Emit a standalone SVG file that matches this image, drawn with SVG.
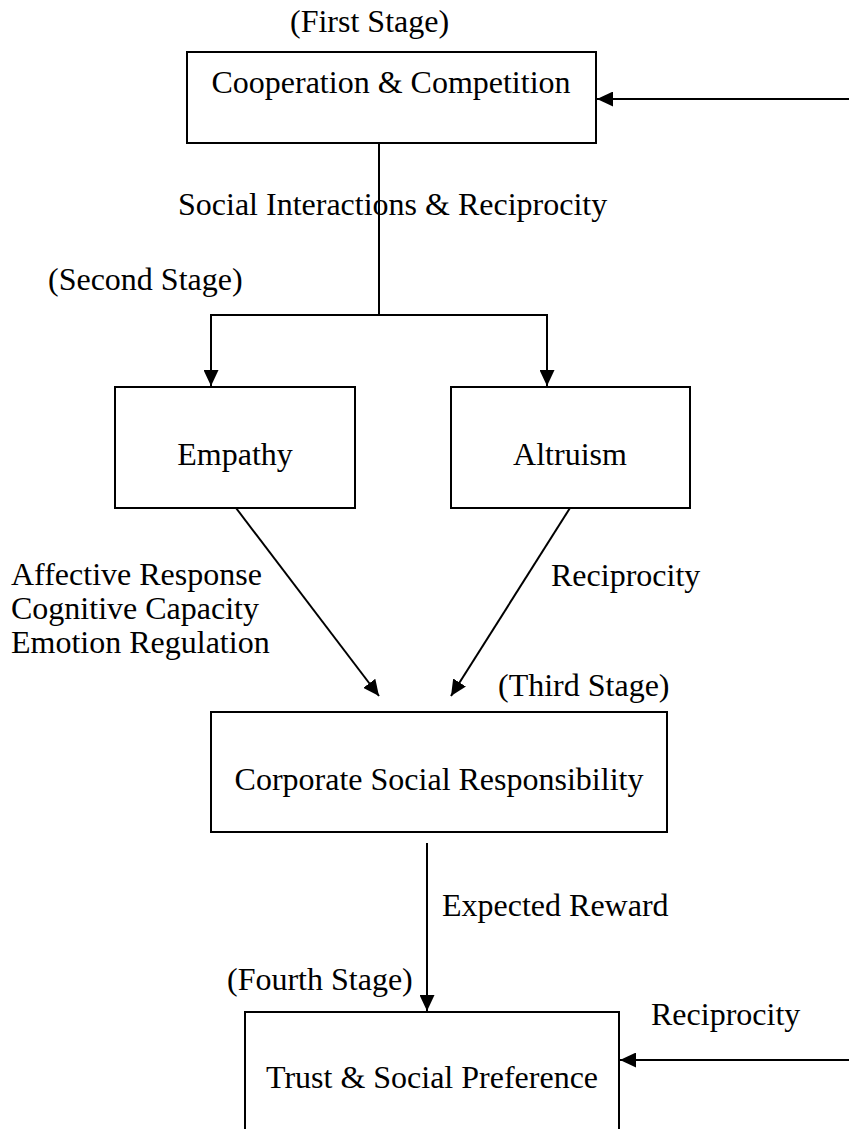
<svg xmlns="http://www.w3.org/2000/svg" width="849" height="1129" viewBox="0 0 849 1129">
<style>
text{font-family:"Liberation Serif","Times New Roman",serif;font-size:32px;fill:#000}
.box{fill:#fff;stroke:#000;stroke-width:2}
.ln{fill:none;stroke:#000;stroke-width:2}
.c{text-anchor:middle}
</style>
<defs>
<marker id="ah" viewBox="0 0 16 15" refX="16" refY="7.5" markerWidth="16" markerHeight="15" markerUnits="userSpaceOnUse" orient="auto">
<path d="M0,0 L16,7.5 L0,15 Z" fill="#000"/>
</marker>
</defs>
<rect width="849" height="1129" fill="#fff"/>
<g id="connectors">
<line class="ln" x1="849" y1="99" x2="597" y2="99" marker-end="url(#ah)"/>
<line class="ln" x1="379" y1="143" x2="379" y2="315"/>
<polyline class="ln" points="211,387 211,315 547,315 547,387" fill="none"/>
<line class="ln" x1="211" y1="330" x2="211" y2="386" marker-end="url(#ah)"/>
<line class="ln" x1="547" y1="330" x2="547" y2="386" marker-end="url(#ah)"/>
<line class="ln" x1="236" y1="508" x2="379" y2="696" marker-end="url(#ah)"/>
<line class="ln" x1="570" y1="508" x2="451" y2="696" marker-end="url(#ah)"/>
<line class="ln" x1="427" y1="843" x2="427" y2="1011" marker-end="url(#ah)"/>
<line class="ln" x1="849" y1="1060" x2="620" y2="1060" marker-end="url(#ah)"/>
<text x="178" y="215">Social Interactions &amp; Reciprocity</text>
<text x="11" y="585">Affective Response</text>
<text x="11" y="619">Cognitive Capacity</text>
<text x="11" y="653">Emotion Regulation</text>
<text x="551" y="586">Reciprocity</text>
<text x="442" y="916">Expected Reward</text>
<text x="651" y="1025">Reciprocity</text>
</g>
<g id="stage1">
<text x="290" y="32">(First Stage)</text>
<rect class="box" x="187" y="52" width="409" height="91"/>
<text class="c" x="391" y="93">Cooperation &amp; Competition</text>
</g>
<g id="stage2-label"><text x="48" y="290">(Second Stage)</text></g>
<g id="empathy">
<rect class="box" x="115" y="387" width="240" height="121"/>
<text class="c" x="235" y="465">Empathy</text>
</g>
<g id="altruism">
<rect class="box" x="451" y="387" width="239" height="121"/>
<text class="c" x="570" y="465">Altruism</text>
</g>
<g id="csr">
<text x="498" y="696">(Third Stage)</text>
<rect class="box" x="211" y="712" width="456" height="120"/>
<text class="c" x="439" y="790">Corporate Social Responsibility</text>
</g>
<g id="trust">
<text x="227" y="990">(Fourth Stage)</text>
<rect class="box" x="245" y="1012" width="374" height="130"/>
<text class="c" x="432" y="1088">Trust &amp; Social Preference</text>
</g>
</svg>
